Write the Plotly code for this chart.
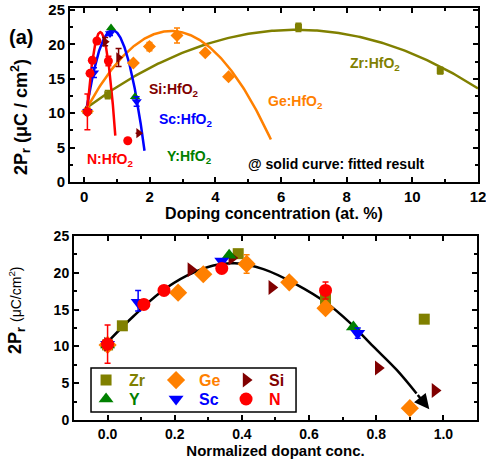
import numpy as np
import plotly.graph_objects as go

nan = float("nan")

# ---------------- panel (a): 2Pr vs doping concentration (at. %) ----------------
zr_x = [0.1, 0.72, 6.53, 10.85]
zr_y = [10.3, 12.7, 22.5, 16.2]
zr_err = [nan, 0.6, 0.6, 0.5]

ge_x = [0.1, 1.5, 1.99, 2.83, 3.69, 4.4]
ge_y = [10.3, 17.3, 19.7, 21.3, 18.8, 15.3]
ge_err = [nan, nan, 0.6, 1.1, nan, nan]

si_x = [0.1, 0.64, 1.05, 1.66]
si_y = [10.3, 20.4, 18.1, 7.1]
si_err = [nan, 0.6, 1.3, nan]

yy_x = [0.1, 0.82, 1.55]
yy_y = [10.3, 22.4, 12.4]

sc_x = [0.1, 0.3, 0.79, 1.6]
sc_y = [10.3, 15.9, 21.6, 11.7]
sc_err = [nan, 0.7, 0.3, 0.7]

n_x = [0.1, 0.18, 0.25, 0.39, 0.74, 1.33]
n_y = [10.2, 15.8, 17.7, 20.5, 17.6, 6.0]
n_err = [2.6, nan, nan, nan, 0.7, nan]

# points along each fitted curve (quadratic fits)
zr_fit_x = [0.1, 0.69, 5.02, 6.48, 12.0]
zr_fit_y = [10.9, 12.8, 21.6, 22.1, 13.6]
ge_fit_x = [0.1, 0.79, 2.65, 5.02, 5.69]
ge_fit_y = [10.9, 16.0, 22.0, 12.3, 6.2]
sc_fit_x = [0.08, 0.34, 0.86, 1.6, 1.84]
sc_fit_y = [10.7, 17.3, 22.1, 11.8, 4.75]
n_fit_x = [0.1, 0.23, 0.49, 0.85, 0.95]
n_fit_y = [10.9, 16.7, 21.8, 12.8, 6.6]

# ---------------- panel (b): 2Pr vs normalized dopant concentration ----------------
zr2_x = [0.0, 0.044, 0.389, 0.649, 0.943]
zr2_y = [10.2, 12.8, 22.6, 16.4, 13.7]

ge2_x = [0.0, 0.21, 0.285, 0.414, 0.541, 0.649, 0.9]
ge2_y = [10.2, 17.3, 19.8, 21.2, 18.7, 15.2, 1.6]
ge2_err = [nan, nan, nan, 1.25, nan, nan, nan]

si2_x = [0.0, 0.248, 0.37, 0.489, 0.806, 0.975]
si2_y = [10.3, 20.4, 22.0, 18.0, 7.05, 4.0]

yy2_x = [0.0, 0.362, 0.732]
yy2_y = [10.2, 22.4, 12.65]

sc2_x = [0.0, 0.091, 0.34, 0.745]
sc2_y = [10.3, 16.0, 21.6, 11.8]
sc2_err_up = [nan, 1.6, nan, 0.7]
sc2_err_dn = [nan, 1.2, nan, 0.7]

n2_x = [0.0, 0.108, 0.168, 0.34, 0.649]
n2_y = [10.3, 15.7, 17.6, 20.6, 17.6]
n2_err = [2.6, nan, nan, nan, 1.15]

# guide curve through the normalized data (ends in an arrow)
guide_x = [0.002, 0.077, 0.156, 0.236, 0.315, 0.379, 0.464, 0.563, 0.652, 0.722, 0.791, 0.861, 0.92]
guide_y = [10.7, 14.1, 17.3, 19.6, 21.0, 21.3, 20.5, 18.4, 15.9, 13.2, 10.0, 6.8, 3.6]
guide_tip = (0.958, 1.45)

OLIVE = "#808000"
ORANGE = "#FF8000"
DARKRED = "#800000"
GREEN = "#008000"
BLUE = "#0000FF"
RED = "#FF0000"

FONT = "Liberation Sans, Arial, Helvetica, sans-serif"

fig = go.Figure()


def err(vals, minus=None, width=3):
    d = dict(type="data", array=vals, visible=True, thickness=1.5, width=width)
    if minus is not None:
        d["symmetric"] = False
        d["arrayminus"] = minus
    return d


def fit_curve(xs, ys):
    c = np.polyfit(xs, ys, 2)
    xx = np.linspace(xs[0], xs[-1], 200)
    return xx, np.polyval(c, xx)


# --- top panel: fitted curves ---
for fx, fy, col in [(zr_fit_x, zr_fit_y, OLIVE), (ge_fit_x, ge_fit_y, ORANGE),
                    (sc_fit_x, sc_fit_y, BLUE), (n_fit_x, n_fit_y, RED)]:
    xx, yy = fit_curve(fx, fy)
    fig.add_trace(go.Scatter(x=xx, y=yy, mode="lines", line=dict(color=col, width=2.5),
                             showlegend=False, hoverinfo="skip", xaxis="x", yaxis="y"))

# --- top panel: measured points ---
top_series = [
    (zr_x, zr_y, zr_err, "square", 7, OLIVE),
    (ge_x, ge_y, ge_err, "diamond", 10, ORANGE),
    (si_x, si_y, si_err, "triangle-right", 9, DARKRED),
    (yy_x, yy_y, None, "triangle-up", 9, GREEN),
    (sc_x, sc_y, sc_err, "triangle-down", 9, BLUE),
    (n_x, n_y, n_err, "circle", 9, RED),
]
for xs, ys, e, sym, sz, col in top_series:
    fig.add_trace(go.Scatter(
        x=xs, y=ys, mode="markers",
        marker=dict(symbol=sym, size=sz, color=col, line=dict(width=0)),
        error_y=err(e) if e is not None else None,
        showlegend=False, xaxis="x", yaxis="y"))

# --- bottom panel: guide curve ---
fig.add_trace(go.Scatter(x=guide_x, y=guide_y, mode="lines",
                         line=dict(color="black", width=2.5, shape="spline", smoothing=1.0),
                         showlegend=False, hoverinfo="skip", xaxis="x2", yaxis="y2"))


# --- bottom panel: normalized points ---
def lname(text, col):
    return f"<span style='color:{col}'>{text}</span>"


bottom_series = [
    (zr2_x, zr2_y, None, "square", 11, OLIVE, "Zr", "legend"),
    (ge2_x, ge2_y, err(ge2_err), "diamond", 14, ORANGE, "Ge", "legend"),
    (si2_x, si2_y, None, "triangle-right", 13, DARKRED, "Si", "legend"),
    (yy2_x, yy2_y, None, "triangle-up", 13, GREEN, "Y", "legend2"),
    (sc2_x, sc2_y, err(sc2_err_up, sc2_err_dn), "triangle-down", 13, BLUE, "Sc", "legend2"),
    (n2_x, n2_y, err(n2_err), "circle", 13, RED, "N", "legend2"),
]
for xs, ys, e, sym, sz, col, nm, lg in bottom_series:
    fig.add_trace(go.Scatter(
        x=xs, y=ys, mode="markers", name=lname(nm, col),
        marker=dict(symbol=sym, size=sz, color=col, line=dict(width=0)),
        error_y=e, legend=lg, xaxis="x2", yaxis="y2"))

axis_common = dict(
    showline=True, linecolor="black", linewidth=2, mirror="allticks",
    ticks="inside", ticklen=5, tickwidth=1.5, tickcolor="black",
    showgrid=False, zeroline=False, automargin=False, ticklabeloverflow="allow",
    tickfont=dict(family=FONT, size=15, color="black", weight="bold"),
)

legend_common = dict(orientation="h", x=0.032, xanchor="left", yanchor="top",
                     bgcolor="rgba(0,0,0,0)", borderwidth=0, entrywidth=19, itemwidth=36,
                     font=dict(family=FONT, size=16, weight="bold"), tracegroupgap=0)

fig.update_layout(
    width=486, height=463,
    margin=dict(l=70, r=8, t=8, b=43, autoexpand=False),
    paper_bgcolor="white", plot_bgcolor="white",
    font=dict(family=FONT, color="black"),
    xaxis=dict(
        axis_common, domain=[0, 1], anchor="y", range=[-0.43, 12], tick0=0, dtick=2,
        minor=dict(ticks="inside", ticklen=3, dtick=1, tickcolor="black", tickwidth=1.5),
        title=dict(text="Doping concentration (at. %)", standoff=3,
                   font=dict(family=FONT, size=16, color="black", weight="bold")),
    ),
    yaxis=dict(
        axis_common, domain=[0.5777, 1.0], anchor="x", range=[0, 25.3], tick0=0, dtick=5,
        minor=dict(ticks="inside", ticklen=3, dtick=2.5, tickcolor="black", tickwidth=1.5),
    ),
    xaxis2=dict(
        axis_common, domain=[0.0098, 0.9975], anchor="y2", range=[-0.1, 1.1], tick0=0, dtick=0.2,
        tickformat=".1f",
        minor=dict(ticks="inside", ticklen=3, dtick=0.1, tickcolor="black", tickwidth=1.5),
        tickfont=dict(family=FONT, size=14, color="black", weight="bold"),
        title=dict(text="Normalized dopant conc.", standoff=3,
                   font=dict(family=FONT, size=15, color="black", weight="bold")),
    ),
    yaxis2=dict(
        axis_common, domain=[0, 0.4466], anchor="x2", range=[0, 25], tick0=0, dtick=5,
        minor=dict(ticks="inside", ticklen=3, dtick=2.5, tickcolor="black", tickwidth=1.5),
        tickfont=dict(family=FONT, size=14, color="black", weight="bold"),
    ),
    legend=dict(legend_common, y=0.138),
    legend2=dict(legend_common, y=0.092),
)

# y-axis titles
fig.add_annotation(x=-0.1225, y=0.7354, xref="paper", yref="paper", textangle=-90,
                   text="2P<sub>r</sub> (μC / cm<sup>2</sup>)", showarrow=False,
                   xanchor="center", yanchor="middle",
                   font=dict(family=FONT, size=18, color="black", weight="bold"))
fig.add_annotation(x=-0.13, y=0.267, xref="paper", yref="paper", textangle=-90,
                   text="<b>2P<sub>r</sub></b> <span style='font-size:14px'>(μC/cm<sup>2</sup>)</span>",
                   showarrow=False, xanchor="center", yanchor="middle",
                   font=dict(family=FONT, size=18, color="black", weight="normal"))

# legend frame
fig.add_shape(type="rect", xref="paper", yref="paper",
              x0=0.0515, x1=0.554, y0=0.0194, y1=0.126,
              line=dict(color="black", width=1.5), fillcolor="white", layer="below")

# arrow head at the end of the guide curve
fig.add_annotation(x=guide_tip[0], y=guide_tip[1], ax=guide_x[-1], ay=guide_y[-1],
                   xref="x2", yref="y2", axref="x2", ayref="y2", text="",
                   showarrow=True, arrowhead=2, arrowsize=1.2, arrowwidth=2.5,
                   arrowcolor="black")


# labels on the top panel
def label(x, y, text, col, size=14):
    fig.add_annotation(x=x, y=y, xref="x", yref="y", text=text, showarrow=False,
                       xanchor="left", yanchor="middle",
                       font=dict(family=FONT, size=size, color=col, weight="bold"))


label(1.92, 13.4, "Si:HfO<sub>2</sub>", DARKRED)
label(2.23, 9.0, "Sc:HfO<sub>2</sub>", BLUE)
label(2.47, 3.6, "Y:HfO<sub>2</sub>", GREEN)
label(0.03, 3.2, "N:HfO<sub>2</sub>", RED)
label(5.53, 11.6, "Ge:HfO<sub>2</sub>", ORANGE)
label(8.03, 17.1, "Zr:HfO<sub>2</sub>", OLIVE)
label(4.92, 2.6, "@ solid curve: fitted result", "black", size=14)

fig.add_annotation(x=-0.12, y=0.9296, xref="paper", yref="paper", text="(a)",
                   showarrow=False, xanchor="center", yanchor="middle",
                   font=dict(family=FONT, size=20, color="black", weight="bold"))

fig.write_html("out.html")
